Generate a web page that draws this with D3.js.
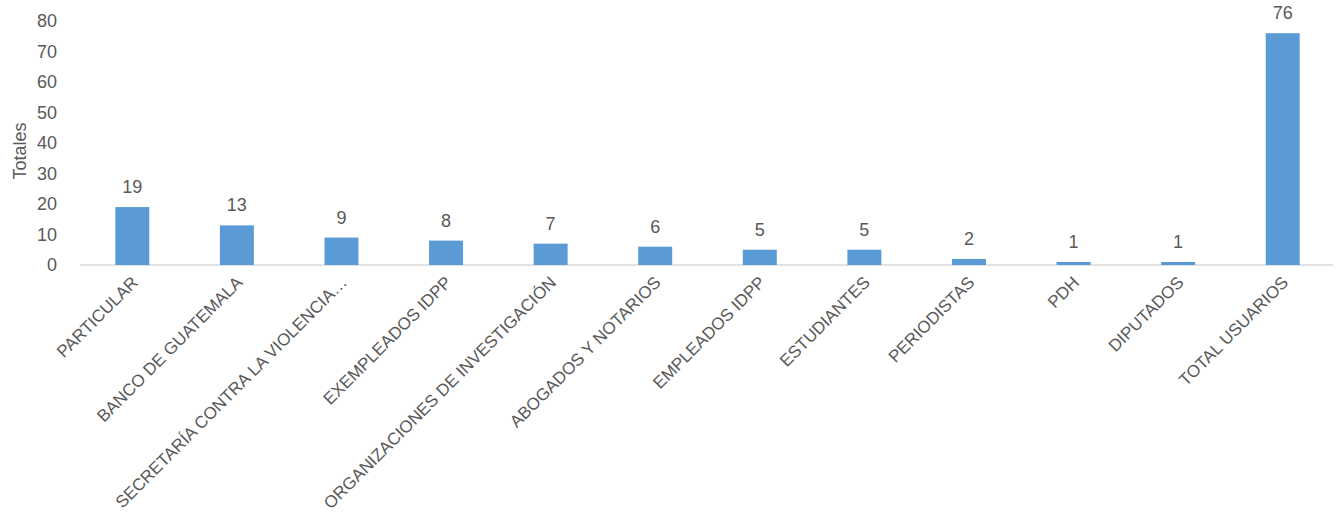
<!DOCTYPE html>
<html>
<head>
<meta charset="utf-8">
<script src="https://cdn.jsdelivr.net/npm/d3@7"></script>
<style>
  html, body { margin: 0; padding: 0; background: #fff; }
  svg { display: block; }
  text { font-family: "Liberation Sans", Arial, sans-serif; fill: #595959; }
</style>
</head>
<body>
<svg id="chart" width="1343" height="514"></svg>
<script>
const categories = ["PARTICULAR", "BANCO DE GUATEMALA", "SECRETARÍA CONTRA LA VIOLENCIA…", "EXEMPLEADOS IDPP",
  "ORGANIZACIONES DE INVESTIGACIÓN", "ABOGADOS Y NOTARIOS", "EMPLEADOS IDPP", "ESTUDIANTES",
  "PERIODISTAS", "PDH", "DIPUTADOS", "TOTAL USUARIOS"];
const values = [19, 13, 9, 8, 7, 6, 5, 5, 2, 1, 1, 76];
const yTicks = [0, 10, 20, 30, 40, 50, 60, 70, 80];
const yTitle = "Totales";

const svg = d3.select("#chart");
const x = d3.scaleBand().domain(categories).range([80, 1335]).paddingInner(0.675).paddingOuter(0.3375);
const y = d3.scaleLinear().domain([0, 80]).range([265, 21]);

// baseline
svg.append("line").attr("x1", 80).attr("x2", 1333).attr("y1", y(0)).attr("y2", y(0))
  .attr("stroke", "#d9d9d9").attr("stroke-width", 1.5);

// y axis
const yAxis = svg.append("g").attr("transform", "translate(57,0)")
  .call(d3.axisLeft(y).tickValues(yTicks).tickSize(0).tickPadding(0));
yAxis.select(".domain").remove();
yAxis.selectAll("text").style("font-size", "18px").attr("fill", "#595959")
  .style("font-family", '"Liberation Sans", Arial, sans-serif');

svg.append("text").attr("transform", "translate(26,151) rotate(-90)")
  .attr("text-anchor", "middle").style("font-size", "18px").text(yTitle);

// bars
svg.selectAll("rect.bar").data(values).enter().append("rect")
  .attr("class", "bar")
  .attr("x", (d, i) => x(categories[i]))
  .attr("width", x.bandwidth())
  .attr("y", d => y(d))
  .attr("height", d => y(0) - y(d))
  .attr("fill", "#5b9bd5");

// value labels
svg.selectAll("text.val").data(values).enter().append("text")
  .attr("class", "val")
  .attr("x", (d, i) => x(categories[i]) + x.bandwidth() / 2)
  .attr("y", d => y(d) - 14)
  .attr("text-anchor", "middle")
  .style("font-size", "18px")
  .text(d => d);

// category labels
const xAxis = svg.append("g").attr("transform", `translate(0,${y(0)})`)
  .call(d3.axisBottom(x).tickSize(0).tickPadding(0));
xAxis.select(".domain").remove();
xAxis.selectAll("text")
  .style("font-size", "17px")
  .attr("fill", "#595959")
  .style("font-family", '"Liberation Sans", Arial, sans-serif')
  .attr("text-anchor", "end")
  .attr("transform", "translate(-2,10) rotate(-45)")
  .attr("dy", "0.71em")
  .attr("y", 0).attr("x", 0);
</script>
</body>
</html>
